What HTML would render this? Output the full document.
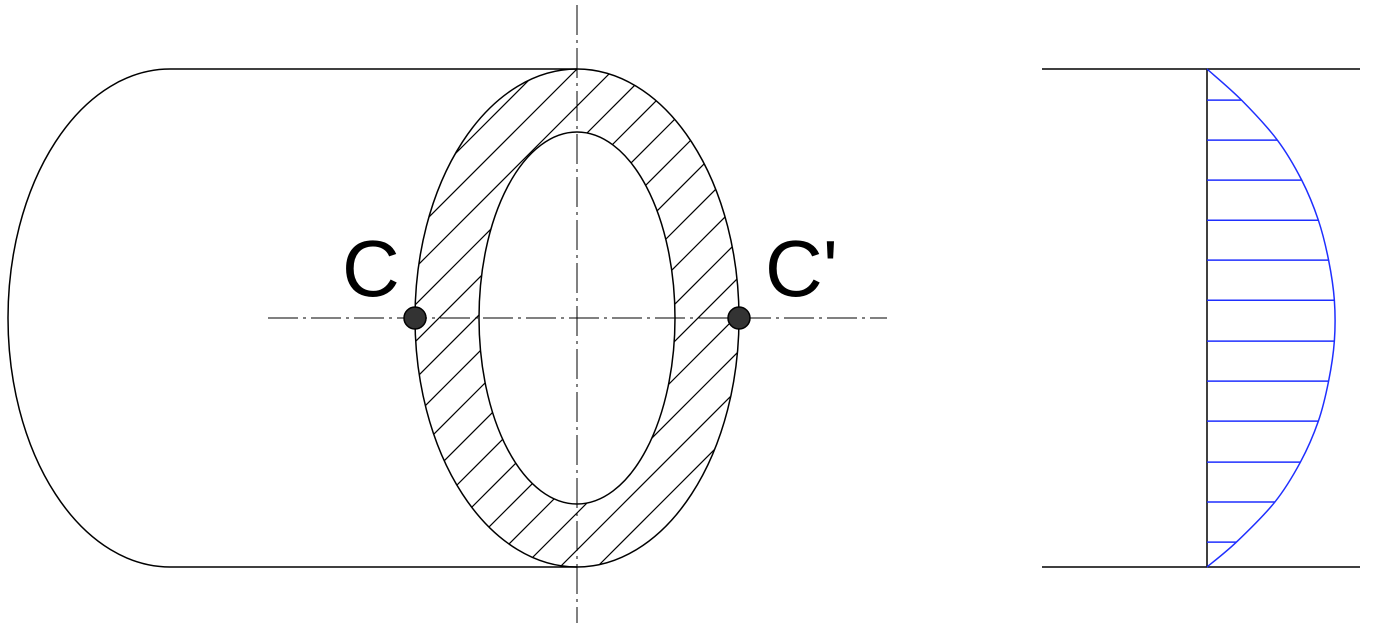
<!DOCTYPE html>
<html>
<head>
<meta charset="utf-8">
<style>
  html,body{margin:0;padding:0;background:#fff;width:1376px;height:636px;overflow:hidden;}
  svg{display:block;}
  text{font-family:"Liberation Sans",Arial,sans-serif;}
</style>
</head>
<body>
<svg id="fig" width="1376" height="636" viewBox="0 0 1376 636" xmlns="http://www.w3.org/2000/svg">
  <defs>
    <clipPath id="ringClip">
      <path clip-rule="evenodd" d="M577,69 a162,249 0 1,0 0.01,0 Z M577,132 a98,186 0 1,0 0.01,0 Z"/>
    </clipPath>
  </defs>

  <g fill="none" stroke="#000" stroke-width="1.5">
    <line x1="170" y1="69" x2="577" y2="69"/>
    <line x1="170" y1="567" x2="577" y2="567"/>
    <path d="M170,69 A162,249 0 0,0 170,567"/>
  </g>

  <g id="hatch" clip-path="url(#ringClip)" stroke="#000" stroke-width="1.2"></g>

  <ellipse cx="577" cy="318" rx="162" ry="249" fill="none" stroke="#000" stroke-width="1.5"/>
  <ellipse cx="577" cy="318" rx="98" ry="186" fill="none" stroke="#000" stroke-width="1.5"/>

  <line x1="577" y1="5" x2="577" y2="623" stroke="#000" stroke-width="1" stroke-dasharray="30,5,3,5"/>
  <line x1="268" y1="318" x2="887" y2="318" stroke="#000" stroke-width="1" stroke-dasharray="30,5,3,5"/>

  <circle cx="415" cy="318" r="11" fill="#333" stroke="#000" stroke-width="1.5"/>
  <circle cx="739" cy="318" r="11" fill="#333" stroke="#000" stroke-width="1.5"/>
  <text x="342" y="296" font-size="80" fill="#000">C</text>
  <text x="765" y="296" font-size="80" fill="#000">C'</text>

  <g>
    <line x1="1042" y1="69" x2="1360" y2="69" stroke="#000" stroke-width="1.5"/>
    <line x1="1042" y1="567" x2="1360" y2="567" stroke="#000" stroke-width="1.5"/>
    <line x1="1207" y1="69" x2="1207" y2="567" stroke="#000" stroke-width="1.5"/>
    <g id="vecs" stroke="#1f2fff" stroke-width="1.5"></g>
    <path id="curve" fill="none" stroke="#1f2fff" stroke-width="1.5"/>
  </g>
</svg>
<script>
const stationPos = [0.0625,0.1429,0.2232,0.3036,0.3839,0.4643,0.5464,0.6268,0.7071,0.7893,0.8696,0.95];
const stationVel = [0.27,0.55,0.74,0.87,0.95,0.995,0.995,0.95,0.87,0.73,0.53,0.23];
const maxVel = 1.0;

const NS = "http://www.w3.org/2000/svg";
const y0 = 69, y1 = 567, x0 = 1207, xMax = 1335;
const yScale = p => y0 + p * (y1 - y0);
const xScale = v => x0 + v / maxVel * (xMax - x0);

const vecs = document.getElementById('vecs');
stationPos.forEach((p, i) => {
  const l = document.createElementNS(NS, 'line');
  l.setAttribute('x1', x0); l.setAttribute('x2', xScale(stationVel[i]));
  l.setAttribute('y1', yScale(p)); l.setAttribute('y2', yScale(p));
  
  
  vecs.appendChild(l);
});
const pts = [[x0, y0]].concat(stationPos.map((p, i) => [xScale(stationVel[i]), yScale(p)])).concat([[x0, y1]]);
let d = `M${pts[0][0]},${pts[0][1]}`;
for (let i = 0; i < pts.length - 1; i++) {
  const p0 = pts[Math.max(0, i - 1)], p1 = pts[i], p2 = pts[i + 1], p3 = pts[Math.min(pts.length - 1, i + 2)];
  const c1x = p1[0] + (p2[0] - p0[0]) / 6, c1y = p1[1] + (p2[1] - p0[1]) / 6;
  const c2x = p2[0] - (p3[0] - p1[0]) / 6, c2y = p2[1] - (p3[1] - p1[1]) / 6;
  d += ` C${c1x},${c1y} ${c2x},${c2y} ${p2[0]},${p2[1]}`;
}
document.getElementById('curve').setAttribute('d', d);

const hatch = document.getElementById('hatch');
for (let c = 646 - 37 * 6; c <= 646 + 37 * 16; c += 37) {
  const l = document.createElementNS(NS, 'line');
  l.setAttribute('x1', c); l.setAttribute('y1', 0);
  l.setAttribute('x2', c - 636); l.setAttribute('y2', 636);
  
  
  hatch.appendChild(l);
}
</script>
</body>
</html>
